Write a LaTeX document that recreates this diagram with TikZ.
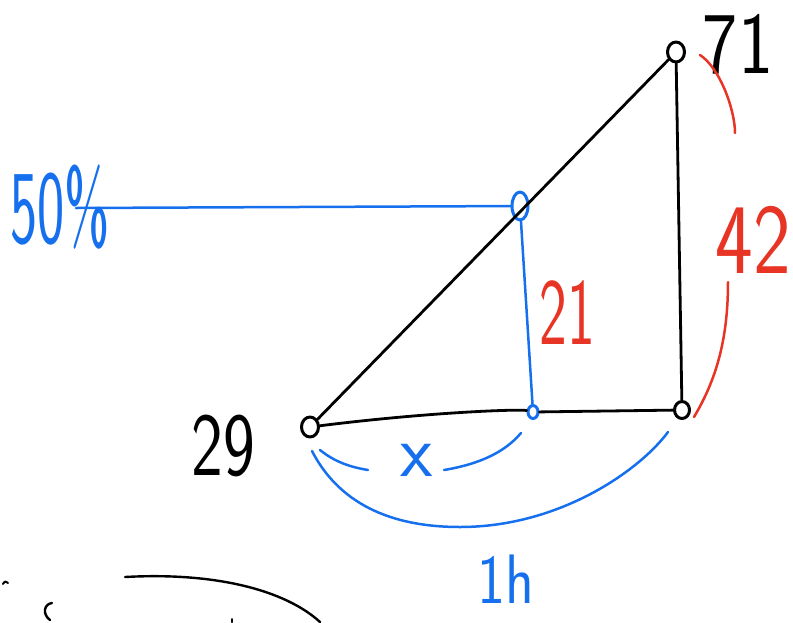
\documentclass[tikz,border=0pt]{standalone}
\usepackage{fontspec}
\usetikzlibrary{shapes.geometric}
\definecolor{pblue}{RGB}{22,112,238}
\definecolor{pred}{RGB}{232,52,36}
\begin{document}
\begin{tikzpicture}[x=1pt,y=-1pt,line cap=round,line join=round,
  blk/.style={draw=black,line width=2.8pt},
  blu/.style={draw=pblue,line width=2.5pt},
  rd/.style={draw=pred,line width=2.5pt},
  bpt/.style={draw=black,line width=3pt,ellipse,inner sep=0pt,minimum width=17pt,minimum height=20pt},
  bluept/.style={draw=pblue,line width=3pt,ellipse,inner sep=0pt},
  lbl/.style={inner sep=0pt,font=\sffamily\fontsize{#1}{#1}\selectfont}]
\useasboundingbox (0,0) rectangle (793,622);
% points
\node[bpt] (A) at (310,427) {};
\node[bpt] (B) at (676,52) {};
\node[bpt,minimum width=15pt,minimum height=17pt] (C) at (682,410) {};
\node[bluept,minimum width=16pt,minimum height=28pt] (M) at (520,206) {};
\node[bluept,minimum width=10pt,minimum height=13pt] (F) at (533,412) {};
\coordinate (L) at (76,208);
% black triangle
\draw[blk] (A) -- (B);
\draw[blk] (B) -- (C);
\draw[blk] (A) .. controls (430,412) and (520,409) .. (F) -- (C);
% blue lines
\draw[blu] (L) -- (M);
\draw[blu] (M) -- (F);
% labels
\node[lbl=88,text=black] (t71) at (738,44) {\scalebox{0.85}[1]{71}};
\node[lbl=90,text=black] (t29) at (223,446) {\scalebox{0.75}[1]{29}};
\node[lbl=105,text=pblue] (t50) at (60,207) {\scalebox{0.55}[1]{50\%}};
\node[lbl=95,text=pred] (t21) at (567,313) {\scalebox{0.62}[1]{21}};
\node[lbl=100,text=pred] (t42) at (753,240) {\scalebox{0.8}[1]{42}};
\node[lbl=75,text=pblue] (tx) at (417,460) {x};
\node[lbl=70,text=pblue] (t1h) at (506,579) {\scalebox{0.85}[1]{1h}};
% red arcs
\draw[rd] (700,55) .. controls (720,68) and (735,110) .. (735,133);
\draw[rd] (728,282) .. controls (728,340) and (716,380) .. (694,417);
% blue arcs
\draw[blu] (320,450) .. controls (335,462) and (350,467) .. (368,470);
\draw[blu] (444,470) .. controls (480,464) and (505,452) .. (521,433);
\draw[blu] (312,451) .. controls (345,515) and (410,527) .. (460,527)
  .. controls (560,527) and (640,470) .. (668,432);
% bottom black strokes
\draw[blk,line width=2.4pt] (125,577) .. controls (215,572) and (285,590) .. (320,622);
\draw[blk,line width=2.4pt] (52,603) .. controls (44,604) and (42,614) .. (50,620);
\draw[blk,line width=2pt] (3,584) .. controls (5,581) .. (8,583);
\draw[blk,line width=2pt] (232,619) -- (232,622);
\end{tikzpicture}
\end{document}
